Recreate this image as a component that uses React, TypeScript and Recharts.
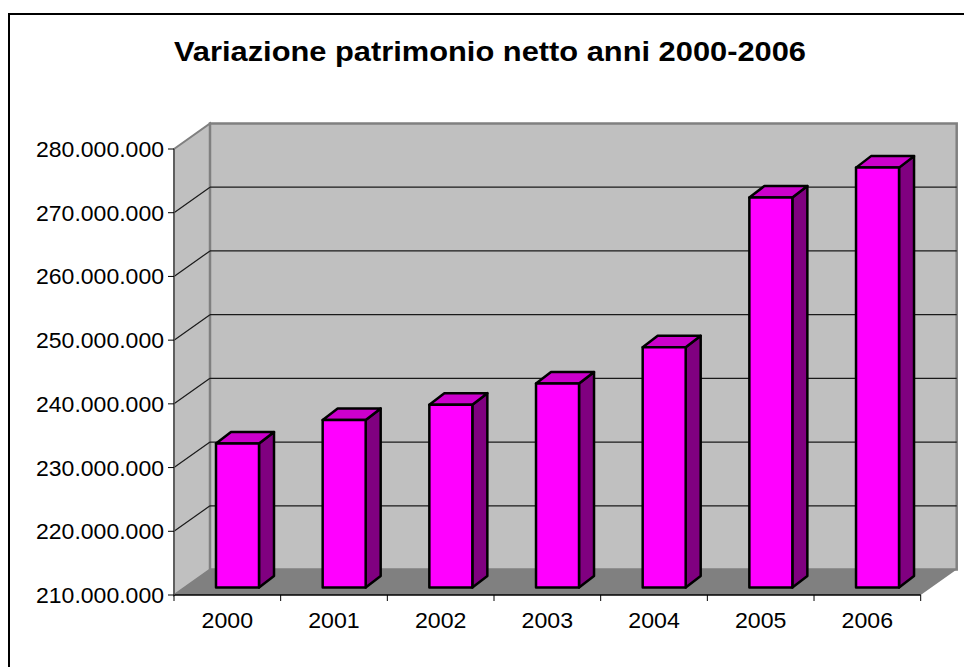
import React from "react";
import { Bar, BarChart, CartesianGrid, XAxis, YAxis, usePlotArea } from "recharts";

const years = ["2000", "2001", "2002", "2003", "2004", "2005", "2006"];
const netWorth = [232600000, 236300000, 238700000, 242000000, 247700000, 271200000, 275900000];
const yTicks = [210000000, 220000000, 230000000, 240000000, 250000000, 260000000, 270000000, 280000000];

const data = years.map((year, i) => ({ year, value: netWorth[i] }));

// 3d look: how far back the walls go, and where the bars sit inside that depth
const WALL_DX = 36;
const WALL_DY = 25.5;
const BAR_DX = 10;
const BAR_DY = 7.5;
const BAR_DEPTH_X = 15;
const BAR_DEPTH_Y = 11.5;

const FONT = "'Liberation Sans', Arial, sans-serif";

const formatTick = (v: number) => String(v).replace(/\B(?=(\d{3})+$)/g, ".");

function Walls() {
    const plot = usePlotArea();
    if (!plot) return null;
    const { x, y, width, height } = plot;
    const bottom = y + height;
    const right = x + width;
    return (
        <g>
            <polygon
                points={`${x},${y} ${x + WALL_DX},${y - WALL_DY} ${x + WALL_DX},${bottom - WALL_DY} ${x},${bottom}`}
                fill="#c0c0c0"
                stroke="#808080"
                strokeWidth={2}
            />
            <rect
                x={x + WALL_DX}
                y={y - WALL_DY}
                width={width}
                height={height}
                fill="#c0c0c0"
                stroke="#808080"
                strokeWidth={2.5}
            />
            <polygon
                points={`${x},${bottom} ${x + WALL_DX},${bottom - WALL_DY} ${right + WALL_DX},${bottom - WALL_DY} ${right},${bottom}`}
                fill="#808080"
            />
        </g>
    );
}

// the grid layer sits under everything, so the walls are drawn with its first line
function GridLine(props: any) {
    const { x1, x2, y1, index } = props;
    const plot = usePlotArea();
    const isEdge = plot && (Math.abs(y1 - plot.y) < 1 || Math.abs(y1 - plot.y - plot.height) < 1);
    return (
        <g>
            {index === 0 && <Walls />}
            {!isEdge && (
                <g>
                    <line x1={x1} y1={y1} x2={x1 + WALL_DX} y2={y1 - WALL_DY} stroke="#1a1a1a" strokeWidth={1.2} />
                    <line x1={x1 + WALL_DX} y1={y1 - WALL_DY} x2={x2 + WALL_DX} y2={y1 - WALL_DY} stroke="#1a1a1a" strokeWidth={1.2} />
                </g>
            )}
        </g>
    );
}

function Bar3d(props: any) {
    const { x, y, width, height } = props;
    const left = x + BAR_DX;
    const top = y - BAR_DY;
    const right = left + width;
    const bottom = top + height;
    const dx = BAR_DEPTH_X;
    const dy = BAR_DEPTH_Y;
    return (
        <g stroke="#000" strokeWidth={2.5} strokeLinejoin="round">
            <polygon points={`${right},${top} ${right + dx},${top - dy} ${right + dx},${bottom - dy} ${right},${bottom}`} fill="#800080" />
            <polygon points={`${left},${top} ${left + dx},${top - dy} ${right + dx},${top - dy} ${right},${top}`} fill="#cc00cc" />
            <rect x={left} y={top} width={width} height={height} fill="#ff00ff" />
        </g>
    );
}

function YearTick(props: any) {
    const { x, payload, index } = props;
    const band = (920.7 - 174) / years.length;
    const lineTop = 595;
    return (
        <g>
            <line x1={x - band / 2} y1={lineTop} x2={x - band / 2} y2={lineTop + 6} stroke="#000" />
            {index === years.length - 1 && (
                <line x1={x + band / 2} y1={lineTop} x2={x + band / 2} y2={lineTop + 6} stroke="#000" />
            )}
            <text
                x={x}
                y={628}
                textAnchor="middle"
                fontFamily={FONT}
                fontSize={22}
                fill="#000"
                textLength={51.5}
                lengthAdjust="spacingAndGlyphs"
            >
                {payload.value}
            </text>
        </g>
    );
}

function ValueTick(props: any) {
    const { y, payload } = props;
    return (
        <text
            x={164}
            y={y + 8}
            textAnchor="end"
            fontFamily={FONT}
            fontSize={22}
            fill="#000"
            textLength={128}
            lengthAdjust="spacingAndGlyphs"
        >
            {formatTick(payload.value)}
        </text>
    );
}

export default function App() {
    return (
        <div style={{ position: "absolute", left: 0, top: 0, width: 964, height: 667, background: "#fff" }}>
            <div style={{ position: "absolute", left: 8, top: 13, right: 0, height: 2, background: "#000" }} />
            <div style={{ position: "absolute", left: 8, top: 13, bottom: 0, width: 2, background: "#000" }} />
            <BarChart
                width={964}
                height={667}
                data={data}
                margin={{ top: 149, right: 43.3, bottom: 0, left: 0 }}
                barCategoryGap="30%"
            >
                <text
                    x={490}
                    y={61}
                    textAnchor="middle"
                    fontFamily={FONT}
                    fontSize={28}
                    fontWeight="bold"
                    fill="#000"
                    textLength={632}
                    lengthAdjust="spacingAndGlyphs"
                >
                    Variazione patrimonio netto anni 2000-2006
                </text>
                <CartesianGrid vertical={false} horizontal={(p: any) => <GridLine {...p} />} />
                <XAxis
                    dataKey="year"
                    axisLine={{ stroke: "#000", strokeWidth: 1.5 }}
                    tickLine={false}
                    tick={<YearTick />}
                    interval={0}
                    height={72}
                />
                <YAxis
                    width={174}
                    domain={[210000000, 280000000]}
                    ticks={yTicks}
                    axisLine={{ stroke: "#555", strokeWidth: 1.5 }}
                    tickLine={{ stroke: "#000" }}
                    tickSize={6}
                    tick={<ValueTick />}
                    interval={0}
                />
                <Bar dataKey="value" shape={<Bar3d />} isAnimationActive={false} />
            </BarChart>
        </div>
    );
}
